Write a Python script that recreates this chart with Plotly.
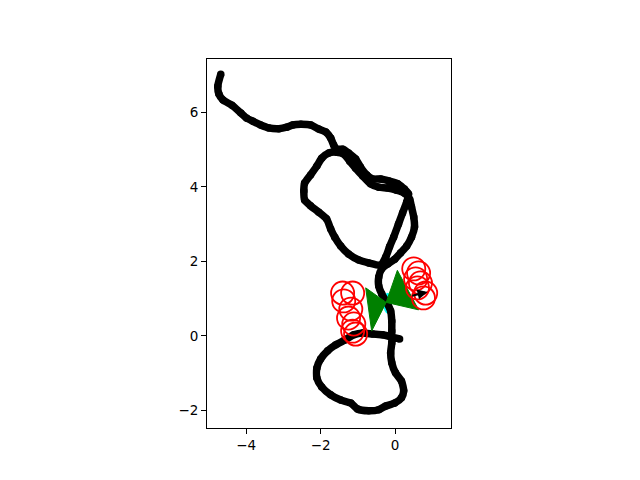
import plotly.graph_objects as go

# Trajectory (data coordinates)
path_x = [-4.68, -4.76, -4.73, -4.62, -4.38, -4.14, -3.98, -3.82, -3.61, -3.39, -3.12, -2.91, -2.75, -2.53, -2.27, -2.05, -1.86, -1.73, -1.65, -1.57,
          -1.41, -1.25, -1.06, -0.93, -0.76, -0.60, -0.39, -0.17, 0.07, 0.25, 0.36,
          0.31, 0.20, 0.09, -0.04, -0.15, -0.25, -0.39,
          -0.71, -0.98, -1.25, -1.46, -1.62, -1.73, -1.84, -2.05, -2.27, -2.43, -2.45, -2.43, -2.27, -2.10, -1.97, -1.78, -1.57,
          -1.38, -1.22, -1.06, -0.87, -0.66, -0.44, -0.20, 0.04, 0.25, 0.39,
          0.44, 0.50, 0.52, 0.44, 0.31, 0.15, -0.01, -0.20, -0.36,
          -0.44, -0.44, -0.36, -0.23, -0.12, -0.09, -0.09, -0.09, -0.12, -0.09, 0.01, 0.17, 0.23, 0.17, -0.01, -0.25, -0.44, -0.71,
          -1.01, -1.19, -1.46, -1.73, -1.97, -2.10, -2.10, -2.00, -1.81, -1.60, -1.35, -1.11, -0.87, -0.60, -0.34, -0.09, 0.12]
path_y = [7.02, 6.70, 6.49, 6.33, 6.19, 5.98, 5.84, 5.76, 5.66, 5.58, 5.56, 5.60, 5.66, 5.68, 5.66, 5.55, 5.47, 5.31, 5.12, 5.01,
          5.01, 4.91, 4.75, 4.53, 4.32, 4.21, 4.21, 4.16, 4.08, 3.94, 3.81,
          3.59, 3.30, 3.00, 2.65, 2.39, 2.12, 1.90,
          1.96, 2.04, 2.20, 2.41, 2.65, 2.87, 3.14, 3.32, 3.49, 3.65, 3.89, 4.10, 4.32, 4.56, 4.77, 4.91, 4.93,
          4.88, 4.69, 4.50, 4.29, 4.08, 3.99, 3.97, 3.91, 3.83, 3.67,
          3.46, 3.19, 2.92, 2.65, 2.41, 2.23, 2.06, 1.93, 1.80,
          1.58, 1.34, 1.13, 0.91, 0.67, 0.40, 0.13, -0.19, -0.46, -0.72, -0.99, -1.21, -1.47, -1.66, -1.80, -1.88, -1.98, -2.01,
          -1.96, -1.80, -1.72, -1.58, -1.37, -1.13, -0.86, -0.62, -0.40, -0.24, -0.11, 0.03, 0.08, 0.05, 0.03, -0.03, -0.08]

# Red landmark circles
circle_x = [-1.41, -1.14, -1.38, -1.19, -1.25, -1.11, -1.06, -1.14,
            0.50, 0.63, 0.55, 0.68, 0.60, 0.82, 0.76]
circle_y = [1.15, 1.15, 0.94, 0.72, 0.48, 0.32, 0.05, 0.13,
            1.80, 1.69, 1.53, 1.42, 1.29, 1.15, 1.02]
circle_r = 0.31

# Green field-of-view cones
cone_left_x = [-0.24, -0.79, -0.63]
cone_left_y = [0.90, 1.29, 0.13]
cone_right_x = [-0.24, 0.06, 0.63]
cone_right_y = [0.90, 1.76, 0.70]

# Cyan pose marker
pose_x, pose_y = -0.20, 0.88
pose_rx, pose_ry = 0.12, 0.28

# Heading arrow
arrow_start = (0.42, 1.07)
arrow_end = (0.87, 1.18)

fig = go.Figure()

fig.add_shape(type="circle", xref="x", yref="y",
              x0=pose_x - pose_rx, x1=pose_x + pose_rx,
              y0=pose_y - pose_ry, y1=pose_y + pose_ry,
              fillcolor="cyan", line=dict(width=0), layer="below")

fig.add_trace(go.Scatter(x=path_x, y=path_y, mode="lines+markers",
                         line=dict(color="black", width=7.5, shape="spline", smoothing=0.6),
                         marker=dict(color="black", size=7.5),
                         hoverinfo="skip", showlegend=False))

for cx, cy in [(cone_left_x, cone_left_y), (cone_right_x, cone_right_y)]:
    fig.add_trace(go.Scatter(x=cx + [cx[0]], y=cy + [cy[0]], mode="lines",
                             fill="toself", fillcolor="green",
                             line=dict(color="green", width=1),
                             hoverinfo="skip", showlegend=False))

for x, y in zip(circle_x, circle_y):
    fig.add_shape(type="circle", xref="x", yref="y",
                  x0=x - circle_r, x1=x + circle_r,
                  y0=y - circle_r, y1=y + circle_r,
                  line=dict(color="red", width=1.8), layer="above")

fig.add_annotation(x=arrow_end[0], y=arrow_end[1], ax=arrow_start[0], ay=arrow_start[1],
                   xref="x", yref="y", axref="x", ayref="y",
                   showarrow=True, arrowhead=2, arrowsize=1, arrowwidth=2,
                   arrowcolor="black", text="")

axis_common = dict(showgrid=False, zeroline=False, showline=True, mirror=True,
                   linecolor="black", linewidth=1, ticks="outside", ticklen=5,
                   tickcolor="black", tickwidth=1,
                   tickfont=dict(family="DejaVu Sans", size=13.5, color="black"))

fig.update_layout(
    width=640, height=480,
    margin=dict(l=199, r=196.5, t=51, b=60),
    plot_bgcolor="white", paper_bgcolor="white",
    xaxis=dict(range=[-5.05, 1.50], tickvals=[-4, -2, 0], **axis_common),
    yaxis=dict(range=[-2.47, 7.43], tickvals=[-2, 0, 2, 4, 6], **axis_common),
)

fig.write_html("out.html")
